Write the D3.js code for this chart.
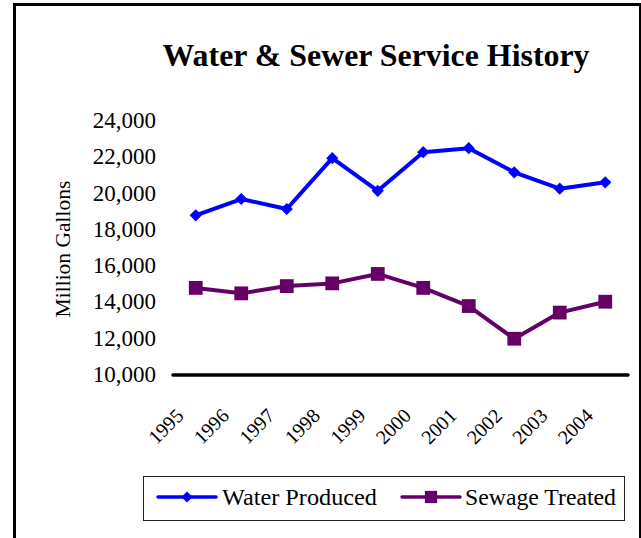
<!DOCTYPE html>
<html>
<head>
<meta charset="utf-8">
<script src="https://cdn.jsdelivr.net/npm/d3@7"></script>
<style>
  body { margin: 0; background: #fff; }
  svg text { font-family: "Times New Roman", "Liberation Serif", Times, serif; fill: #000; }
</style>
</head>
<body>
<div id="chart"></div>
<script>
const years = ["1995", "1996", "1997", "1998", "1999", "2000", "2001", "2002", "2003", "2004"];
const waterProduced = [18800, 19700, 19150, 21950, 20150, 22280, 22500, 21170, 20270, 20620];
const sewageTreated = [14800, 14500, 14900, 15050, 15570, 14800, 13800, 12000, 13440, 14040];
const yTicks = [10000, 12000, 14000, 16000, 18000, 20000, 22000, 24000];
const seriesNames = ["Water Produced", "Sewage Treated"];

const width = 641, height = 538;
const serif = "'Times New Roman', 'Liberation Serif', Times, serif";

const svg = d3.select("#chart")
    .append("svg")
        .attr("width", width)
        .attr("height", height)
        .attr("font-family", serif);

// outer frame (bottom edge runs off the picture)
svg.append("rect")
    .attr("x", 14.5)
    .attr("y", 4.5)
    .attr("width", 626)
    .attr("height", 560)
    .attr("fill", "none")
    .attr("stroke", "#000")
    .attr("stroke-width", 3);

svg.append("text")
    .attr("x", 376)
    .attr("y", 66)
    .attr("text-anchor", "middle")
    .attr("font-size", 31)
    .attr("font-weight", "bold")
    .attr("textLength", 427)
    .attr("lengthAdjust", "spacingAndGlyphs")
    .text("Water & Sewer Service History");

const x = d3.scaleBand()
    .domain(years)
    .range([173, 628]);

const y = d3.scaleLinear()
    .domain([10000, 24000])
    .range([375, 121]);

const yAxis = svg.append("g")
    .attr("transform", "translate(173,0)")
    .call(d3.axisLeft(y)
        .tickValues(yTicks)
        .tickSize(0)
        .tickPadding(17)
        .tickFormat(d3.format(",")));
yAxis.attr("font-family", serif);
yAxis.select(".domain").remove();
yAxis.selectAll("text")
    .attr("font-size", 23)
    .attr("dy", "0.28em");

svg.append("text")
    .attr("transform", "translate(70,249) rotate(-90)")
    .attr("text-anchor", "middle")
    .attr("font-size", 21.5)
    .text("Million Gallons");

// category axis
svg.append("line")
    .attr("x1", x.range()[0])
    .attr("x2", x.range()[1])
    .attr("y1", y(10000))
    .attr("y2", y(10000))
    .attr("stroke", "#000")
    .attr("stroke-width", 3.5)
    .attr("stroke-linecap", "round");

svg.append("g")
    .selectAll("text")
    .data(years)
    .enter()
    .append("text")
        .attr("text-anchor", "end")
        .attr("font-size", 20)
        .attr("transform", d => `translate(${x(d) + x.bandwidth() / 2 - 11},${y(10000) + 42}) rotate(-45)`)
        .text(d => d);

const line = d3.line()
    .x((d, i) => x(years[i]) + x.bandwidth() / 2)
    .y(d => y(d));

const series = [
    { name: seriesNames[0], values: waterProduced, color: "#0000ff", symbol: d3.symbolDiamond2, size: 95 },
    { name: seriesNames[1], values: sewageTreated, color: "#660066", symbol: d3.symbolSquare, size: 190 }
];

series.forEach(s => {
    svg.append("path")
        .attr("d", line(s.values))
        .attr("fill", "none")
        .attr("stroke", s.color)
        .attr("stroke-width", 4)
        .attr("stroke-linejoin", "round");

    svg.append("g")
        .selectAll("path")
        .data(s.values)
        .enter()
        .append("path")
            .attr("d", d3.symbol().type(s.symbol).size(s.size))
            .attr("transform", (d, i) => `translate(${x(years[i]) + x.bandwidth() / 2},${y(d)})`)
            .attr("fill", s.color);
});

// legend
const legend = svg.append("g");
legend.append("rect")
    .attr("x", 143.5)
    .attr("y", 476.5)
    .attr("width", 481)
    .attr("height", 44)
    .attr("fill", "#fff")
    .attr("stroke", "#222")
    .attr("stroke-width", 1);

const legendItems = [
    { x0: 158, textX: 222, textLen: 155 },
    { x0: 402, textX: 465, textLen: 151 }
];

series.forEach((s, i) => {
    const it = legendItems[i];
    const g = legend.append("g").attr("transform", "translate(0,497)");
    g.append("line")
        .attr("x1", it.x0)
        .attr("x2", it.x0 + 58)
        .attr("stroke", s.color)
        .attr("stroke-width", 3.5)
        .attr("stroke-linecap", "round");
    g.append("path")
        .attr("d", d3.symbol().type(s.symbol).size(i === 0 ? 80 : 150))
        .attr("transform", `translate(${it.x0 + 29},0)`)
        .attr("fill", s.color);
    g.append("text")
        .attr("x", it.textX)
        .attr("y", 8)
        .attr("font-size", 23)
        .attr("textLength", it.textLen)
        .attr("lengthAdjust", "spacingAndGlyphs")
        .text(s.name);
});
</script>
</body>
</html>
